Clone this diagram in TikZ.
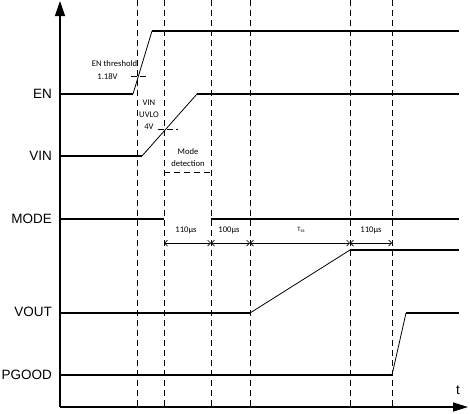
\documentclass[tikz,border=0pt]{standalone}
\usepackage{fontspec}
\setmainfont{Liberation Sans}
\newfontfamily\smallfont{Carlito}
\usetikzlibrary{arrows.meta}
\begin{document}
\begin{tikzpicture}[x=1pt,y=-1pt,
  sig/.style={line width=1.1pt},
  ramp/.style={line width=0.8pt},
  guide/.style={line width=0.9pt, dash pattern=on 6pt off 4pt},
  marker/.style={line width=0.8pt, dash pattern=on 6pt off 3pt},
  axis/.style={line width=1.3pt},
  lbl/.style={font=\fontsize{13.5}{14}\selectfont, inner sep=0pt, anchor=east},
  note/.style={font=\smallfont\fontsize{8.6}{10}\selectfont, inner sep=0pt},
  tiny/.style={font=\smallfont\fontsize{6.5}{7}\selectfont, inner sep=0pt},
  dim/.style={line width=0.7pt, {Straight Barb[length=3pt,width=6pt]}-{Straight Barb[length=3pt,width=6pt]}},
]
\useasboundingbox (0,0) rectangle (470,413);

% axes
\coordinate (O) at (60,407);
\coordinate (ytop) at (60,1);
\coordinate (xend) at (468,407);
\draw[axis,-{Triangle[length=15pt,width=10pt]}] (O) -- (ytop);
\draw[axis,-{Triangle[length=15pt,width=9pt]}] (O) -- (xend);
\node[font=\fontsize{13.5}{14}\selectfont, inner sep=0pt] (t) at (458,390) {t};

% dashed guide lines
\foreach \n/\x in {g1/137,g2/164,g3/211,g4/250,g5/350,g6/392}{
  \coordinate (\n t) at (\x,0);
  \coordinate (\n b) at (\x,407);
  \draw[guide] (\n t) -- (\n b);
}

% signal labels
\node[lbl] (en) at (52,94) {EN};
\node[lbl] (vin) at (52,156) {VIN};
\node[lbl] (mode) at (52,219) {MODE};
\node[lbl] (vout) at (52,312) {VOUT};
\node[lbl] (pg) at (52,375) {PGOOD};

% EN
\coordinate (en0) at (60,94);
\coordinate (en1) at (133,94);
\coordinate (en2) at (152,31);
\coordinate (en3) at (459,31);
\draw[sig] (en0) -- (en1);
\draw[ramp] (en1) -- (en2);
\draw[sig] (en2) -- (en3);

% VIN
\coordinate (vin0) at (60,156);
\coordinate (vin1) at (142,156);
\coordinate (vin2) at (197,94);
\coordinate (vin3) at (459,94);
\draw[sig] (vin0) -- (vin1);
\draw[ramp] (vin1) -- (vin2);
\draw[sig] (vin2) -- (vin3);

% MODE
\coordinate (m0) at (60,219);
\coordinate (m1) at (164,219);
\coordinate (m2) at (211,219);
\coordinate (m3) at (459,219);
\coordinate (md1) at (164,172);
\coordinate (md2) at (211,172);
\draw[sig] (m0) -- (m1);
\draw[sig] (m2) -- (m3);
\draw[guide] (md1) -- (md2);

% VOUT
\coordinate (vo0) at (60,313);
\coordinate (vo1) at (250,313);
\coordinate (vo2) at (350,250);
\coordinate (vo3) at (459,250);
\draw[sig] (vo0) -- (vo1);
\draw[ramp] (vo1) -- (vo2);
\draw[sig] (vo2) -- (vo3);

% PGOOD
\coordinate (p0) at (60,375);
\coordinate (p1) at (392,375);
\coordinate (p2) at (406,313);
\coordinate (p3) at (459,313);
\draw[sig] (p0) -- (p1);
\draw[ramp] (p1) -- (p2);
\draw[sig] (p2) -- (p3);

% threshold markers
\coordinate (ent1) at (131,76);
\coordinate (ent2) at (147,76);
\draw[marker] (ent1) -- (ent2);
\coordinate (uv1) at (158,129);
\coordinate (uv2) at (178,129);
\draw[marker] (uv1) -- (uv2);

% notes
\node[note] (enth) at (114.5,64) {EN threshold};
\node[note] (env) at (107.5,77) {1.18V};
\node[note] (uvl1) at (149,103) {VIN};
\node[note] (uvl2) at (149,115) {UVLO};
\node[note] (uvl3) at (149,127) {4V};
\node[note] (mdt1) at (188,152) {Mode};
\node[note] (mdt2) at (188,164) {detection};

% timing dimensions
\coordinate (d0) at (164,243);
\coordinate (d1) at (211,243);
\coordinate (d2) at (250,243);
\coordinate (d3) at (350,243);
\coordinate (d4) at (392,243);
\draw[dim] (d0) -- (d1);
\draw[dim] (d1) -- (d2);
\draw[dim] (d2) -- (d3);
\draw[dim] (d3) -- (d4);
\node[note] (t1) at (186,230) {110µs};
\node[note] (t2) at (229,230) {100µs};
\node[tiny] (t3) at (301,230) {T\raisebox{-1.3pt}{\fontsize{5}{6}\selectfont ss}};
\node[note] (t4) at (371,230) {110µs};
\end{tikzpicture}
\end{document}
